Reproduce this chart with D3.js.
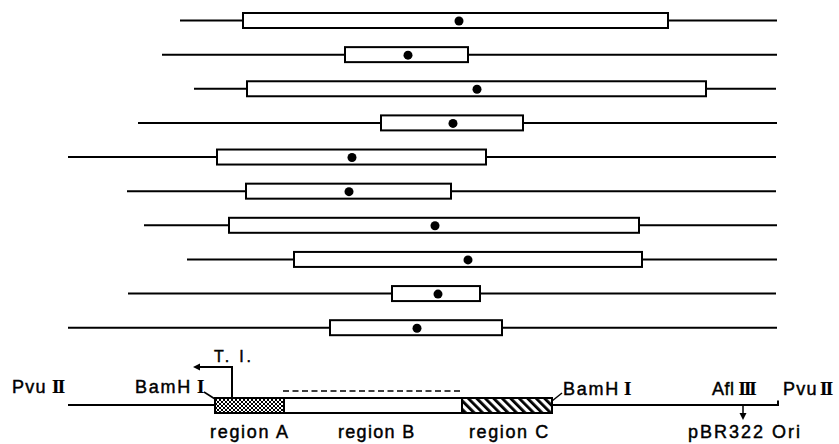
<!DOCTYPE html>
<html><head><meta charset="utf-8">
<script src="https://cdn.jsdelivr.net/npm/d3@7"></script>
<style>html,body{margin:0;padding:0;background:#fff;}svg{display:block;}</style>
</head><body>
<script>
// Rows of mapped clones (units along the map, 0 = left PvuII end)
const rows = ["c1","c2","c3","c4","c5","c6","c7","c8","c9","c10"];
const lineStart = [112, 94, 126, 70, 0, 59, 76, 119, 60, 0];
const boxStart  = [175, 277, 179, 313, 149, 178, 161, 226, 324, 262];
const boxEnd    = [600, 400, 638, 455, 418, 383, 571, 574, 412, 434];
const lineEnd   = [709, 709, 708, 709, 708, 708, 709, 709, 708, 709];
const dotPos    = [391, 340, 409, 385, 284, 281, 367, 400, 370, 349];

// Restriction map
const mapExtent = [0, 710];
const regionNames = ["region A", "region B", "region C"];
const regionStart = [147, 216, 394];
const regionEnd   = [216, 394, 484];
const dashedSpan  = [215, 395];
const tiPos = 164;
const aflPos = 675;

const W = 839, H = 444;
const svg = d3.select("body").append("svg").attr("width", W).attr("height", H);
const defs = svg.append("defs");

// cross-hatch for region A
const pA = defs.append("pattern").attr("id","hatchA").attr("patternUnits","userSpaceOnUse")
  .attr("width",4).attr("height",4);
pA.append("rect").attr("width",4).attr("height",4).attr("fill","#fff");
pA.append("path").attr("d","M0,0L4,4M4,0L0,4").attr("stroke","#000").attr("stroke-width",1);
// diagonal stripes for region C
const pC = defs.append("pattern").attr("id","hatchC").attr("patternUnits","userSpaceOnUse")
  .attr("width",6).attr("height",6).attr("patternTransform","rotate(-45)");
pC.append("rect").attr("width",6).attr("height",6).attr("fill","#fff");
pC.append("rect").attr("x",0).attr("width",2.8).attr("height",6).attr("fill","#000");

const x = d3.scaleLinear().domain(mapExtent).range([68, 778]);
const y = d3.scalePoint().domain(rows).range([20.5, 327.7]);

const g = svg.append("g");
const boxH = 15;

rows.forEach((r, i) => {
  const cy = y(r);
  g.append("line").attr("x1", x(lineStart[i])).attr("x2", x(boxStart[i]))
    .attr("y1", cy).attr("y2", cy).attr("stroke","#000").attr("stroke-width",2);
  g.append("line").attr("x1", x(boxEnd[i])).attr("x2", x(lineEnd[i]))
    .attr("y1", cy).attr("y2", cy).attr("stroke","#000").attr("stroke-width",2);
  g.append("rect").attr("x", x(boxStart[i])).attr("y", cy - boxH/2)
    .attr("width", x(boxEnd[i]) - x(boxStart[i])).attr("height", boxH)
    .attr("fill","#fff").attr("stroke","#000").attr("stroke-width",2);
  g.append("circle").attr("cx", x(dotPos[i])).attr("cy", cy + 0.5).attr("r", 4.5).attr("fill","#000");
});

// map
const my = 405;
const m = svg.append("g");
m.append("line").attr("x1", x(mapExtent[0])).attr("x2", x(mapExtent[1]))
  .attr("y1", my).attr("y2", my).attr("stroke","#000").attr("stroke-width",2);
m.append("line").attr("x1", x(mapExtent[1])).attr("x2", x(mapExtent[1]))
  .attr("y1", my - 4.5).attr("y2", my + 1).attr("stroke","#000").attr("stroke-width",2);
const fills = ["url(#hatchA)", "#fff", "url(#hatchC)"];
regionNames.forEach((n, i) => {
  m.append("rect").attr("x", x(regionStart[i])).attr("y", 398)
    .attr("width", x(regionEnd[i]) - x(regionStart[i])).attr("height", 15)
    .attr("fill", fills[i]).attr("stroke","#000").attr("stroke-width",2);
});
m.append("line").attr("x1", x(dashedSpan[0])).attr("x2", x(dashedSpan[1]))
  .attr("y1", 391).attr("y2", 391).attr("stroke","#000").attr("stroke-width",1.5)
  .attr("stroke-dasharray","6,3.5");

// T.I. arrow
m.append("path").attr("d", `M${x(tiPos)},398V367H${x(tiPos)-33}`)
  .attr("fill","none").attr("stroke","#000").attr("stroke-width",2);
m.append("path").attr("d", `M${x(tiPos)-39},367l7,-3.5v7z`).attr("fill","#000");

// Afl III arrow
m.append("line").attr("x1", x(aflPos)).attr("x2", x(aflPos)).attr("y1", my).attr("y2", 414)
  .attr("stroke","#000").attr("stroke-width",1.5);
m.append("path").attr("d", `M${x(aflPos)},420l-3.5,-7h7z`).attr("fill","#000");

// BamH I leaders
m.append("line").attr("x1", 204).attr("y1", 392).attr("x2", x(regionStart[0])).attr("y2", 399)
  .attr("stroke","#000").attr("stroke-width",1.5);
m.append("line").attr("x1", x(regionEnd[2])).attr("y1", 401).attr("x2", 562).attr("y2", 393)
  .attr("stroke","#000").attr("stroke-width",1.5);

const font = "'Liberation Sans', Arial, sans-serif";
const romanFont = "'Liberation Serif', serif";
const labels = [
  {t:"Pvu",  r:"II",  x:12,  y:393, s:18, ls:1.3,  dx:5, rls:-1.5},
  {t:"BamH", r:"I",   x:135, y:393, s:18, ls:1.75, dx:5, rls:0},
  {t:"T. I.", r:"",   x:214, y:362, s:16, ls:2.8,  dx:0, rls:0},
  {t:"BamH", r:"I",   x:563, y:395, s:18, ls:1.75, dx:4, rls:0},
  {t:"Afl",  r:"III", x:712, y:395, s:18, ls:0.5,  dx:4, rls:-2},
  {t:"Pvu",  r:"II",  x:783, y:395, s:18, ls:1.3,  dx:2, rls:-1.5},
  {t:"region A", r:"", x:210, y:438, s:18, ls:1.7, dx:0, rls:0},
  {t:"region B", r:"", x:338, y:438, s:18, ls:1.3, dx:0, rls:0},
  {t:"region C", r:"", x:469, y:438, s:18, ls:1.6, dx:0, rls:0},
  {t:"pBR322 Ori", r:"", x:688, y:438, s:18, ls:2, dx:0, rls:0}
];
const tx = svg.append("g").selectAll("text").data(labels).join("text")
  .attr("x", d => d.x).attr("y", d => d.y)
  .attr("font-family", font).attr("font-size", d => d.s).attr("fill","#000")
  .attr("stroke","#000").attr("stroke-width",0.45);
tx.append("tspan").attr("letter-spacing", d => d.ls).text(d => d.t);
tx.filter(d => d.r).append("tspan").attr("dx", d => d.dx)
  .attr("font-family", romanFont).attr("font-weight", 700).attr("font-size", 19)
  .attr("letter-spacing", d => d.rls).attr("stroke-width", 0.2).text(d => d.r);
</script>
</body></html>
